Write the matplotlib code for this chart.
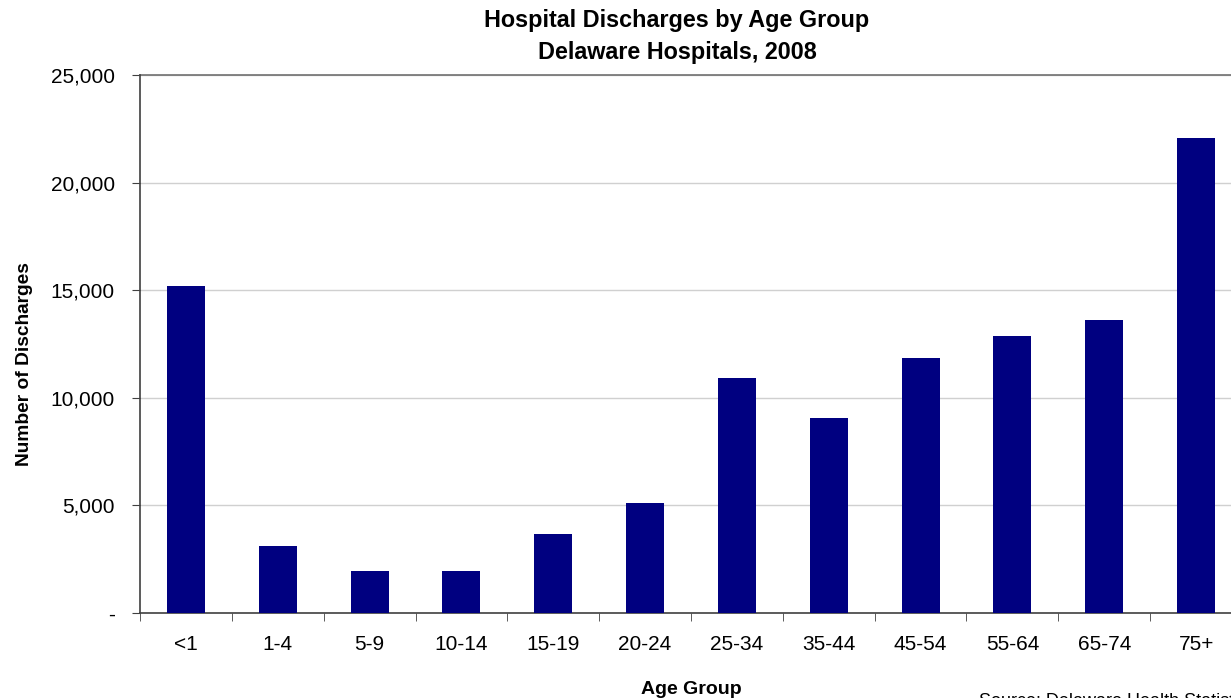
import numpy as np
import matplotlib
matplotlib.use("Agg")
import matplotlib.pyplot as plt
from matplotlib.ticker import FuncFormatter

plt.rcParams['font.family'] = ['Liberation Sans', 'DejaVu Sans']

age_groups = ["<1", "1-4", "5-9", "10-14", "15-19", "20-24",
              "25-34", "35-44", "45-54", "55-64", "65-74", "75+"]
discharges = [15200, 3100, 1950, 1950, 3650, 5100,
              10900, 9050, 11850, 12850, 13600, 22050]


def fmt(v, pos):
    if v == 0:
        return "-"
    return "{:,.0f}".format(v)


def main():
    fig = plt.figure(figsize=(12.31, 6.98), dpi=100)
    W, H = 1231, 698
    left, right, top, bottom = 140, 1242, 75, 613
    ax = fig.add_axes([left / W, (H - bottom) / H, (right - left) / W, (bottom - top) / H])

    x = np.arange(len(age_groups))
    ax.bar(x, discharges, width=0.415, color="#000080", zorder=3)

    ax.set_xlim(-0.5, len(age_groups) - 0.5)
    ax.set_ylim(0, 25000)
    ax.set_yticks(np.arange(0, 25001, 5000))
    ax.yaxis.set_major_formatter(FuncFormatter(fmt))
    ax.grid(axis="y", color="#d0d0d0", linewidth=1.0, zorder=0)
    ax.axhline(25000, color="#707070", linewidth=1.2, zorder=2, clip_on=False)

    ax.set_xticks(x)
    ax.set_xticklabels(age_groups)
    ax.set_xticks(np.arange(-0.5, len(age_groups), 1.0), minor=True)
    ax.tick_params(axis="x", which="major", length=0, labelsize=15, pad=16)
    ax.tick_params(axis="x", which="minor", length=6, direction="out", color="#404040")
    ax.tick_params(axis="y", length=6, direction="out", labelsize=15, pad=12, color="#404040")

    for s in ["top", "right"]:
        ax.spines[s].set_visible(False)
    for s in ["left", "bottom"]:
        ax.spines[s].set_color("#404040")
        ax.spines[s].set_linewidth(1.2)

    ax.set_ylabel("Number of Discharges", fontsize=13.8, fontweight="bold")
    ax.yaxis.set_label_coords(-107 / (right - left), (bottom - 364) / (bottom - top))
    ax.set_xlabel("Age Group", fontsize=14, fontweight="bold", labelpad=19)

    fig.text(677 / W, 1 - 21 / H, "Hospital Discharges by Age Group", ha="center", va="center",
             fontsize=16.8, fontweight="bold")
    fig.text(677 / W, 1 - 53 / H, "Delaware Hospitals, 2008", ha="center", va="center",
             fontsize=16.8, fontweight="bold")
    fig.text(979 / W, 1 - 702 / H, "Source: Delaware Health Statistics Center", ha="left",
             va="center", fontsize=13)

    fig.savefig("out.png", dpi=100)


if __name__ == "__main__":
    main()
